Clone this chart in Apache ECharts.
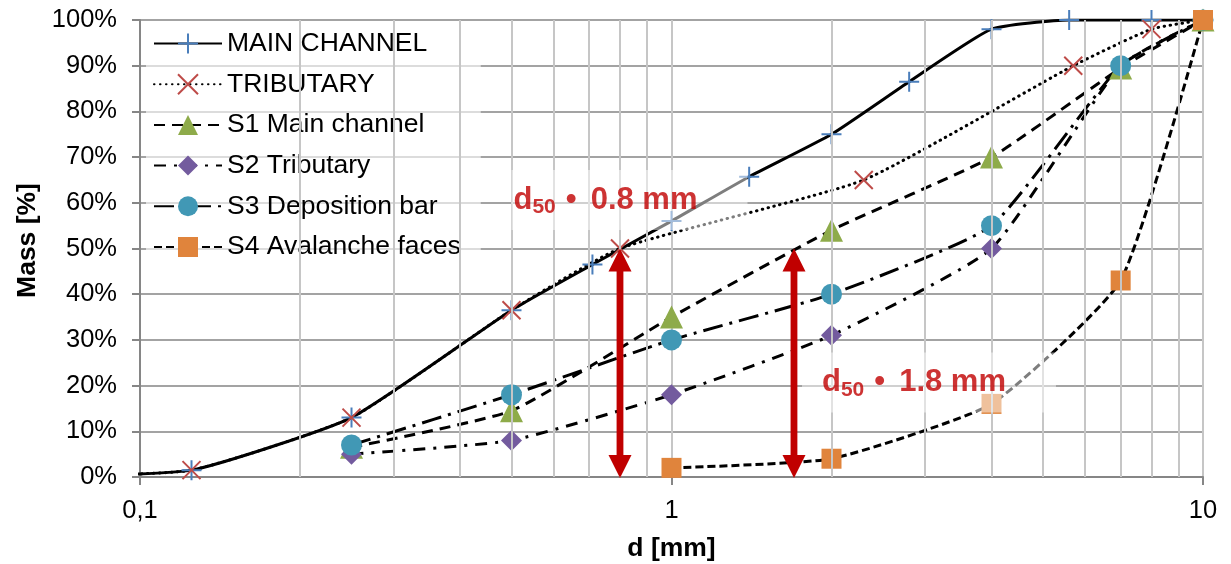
<!DOCTYPE html>
<html>
<head>
<meta charset="utf-8">
<script src="https://cdn.jsdelivr.net/npm/echarts@6/dist/echarts.min.js"></script>
<style>
html,body{margin:0;padding:0;background:#fff;}
#chart{width:1231px;height:564px;}
</style>
</head>
<body>
<div id="chart"></div>
<script>
// ---- data ----
const seriesNames = ['MAIN CHANNEL', 'TRIBUTARY', 'S1 Main channel', 'S2 Tributary', 'S3 Deposition bar', 'S4 Avalanche faces'];

const mainX = [0.063, 0.125, 0.25, 0.5, 0.71, 1, 1.4, 2, 2.8, 4, 5.6, 8, 10];
const mainY = [0, 1.5, 13, 36.5, 46.5, 56, 65.7, 75, 86.5, 98, 100, 100, 100];

const tribX = [0.063, 0.125, 0.25, 0.5, 0.8, 2.3, 5.7, 8, 10];
const tribY = [0, 1.5, 13, 36.5, 50, 65, 90, 98, 100];

const s1X = [0.25, 0.5, 1, 2, 4, 7, 10];
const s1Y = [6.5, 14.5, 35, 54, 70, 89.5, 100];

const s2X = [0.25, 0.5, 1, 2, 4, 7, 10];
const s2Y = [5, 8, 18, 31, 50, 90, 100];

const s3X = [0.25, 0.5, 1, 2, 4, 7, 10];
const s3Y = [7, 18, 30, 40, 55, 90, 100];

const s4X = [1, 2, 4, 7, 10];
const s4Y = [2, 4, 16, 43, 100];

// d50 arrows (x, top %, bottom %)
const arrowX = [0.8, 1.7];
const arrowTop = [50, 50];
const arrowBottom = [0, 0];

// d50 annotation text boxes (anchor at left-middle of box)
const annoX = [0.5, 1.76];
const annoY = [60.6, 20.7];
const annoText = ['0.8 mm', '1.8 mm'];

// axis tick labels
const xTickLabels = {'-1': '0,1', '0': '1', '1': '10'};
const yTickValues = [0, 10, 20, 30, 40, 50, 60, 70, 80, 90, 100];
const minorGridX = [0.2, 0.3, 0.4, 0.5, 0.6, 0.7, 0.8, 0.9, 2, 3, 4, 5, 6, 7, 8, 9];

// ---- chart ----
const FONT = 'Liberation Sans';
const zip = (xs, ys) => xs.map((x, i) => [x, ys[i]]);

const PLUS = 'path://M10,0 L10,20 M0,10 L20,10';
const CROSS = 'path://M0,0 L20,20 M20,0 L0,20';

function lineSeries(name, data, symbol, color, dash, size, extra) {
  const s = {
    name: name,
    type: 'line',
    data: data,
    smooth: 0.16,
    symbol: symbol,
    symbolSize: size,
    showAllSymbol: true,
    clip: true,
    lineStyle: {color: '#000', width: 3, type: dash},
    itemStyle: {color: color},
    emphasis: {disabled: true},
    z: 3
  };
  return Object.assign(s, extra || {});
}

const chart = echarts.init(document.getElementById('chart'), null, {renderer: 'canvas'});

const option = {
  animation: false,
  backgroundColor: '#fff',
  textStyle: {fontFamily: FONT},
  grid: {left: 140, right: 28, top: 20, bottom: 87, containLabel: false, outerBoundsMode: 'none'},
  legend: {
    data: seriesNames,
    orient: 'vertical',
    left: 146,
    top: 22,
    padding: [8, 20, 4, 7],
    itemWidth: 68,
    itemHeight: 25,
    itemGap: 13.7,
    itemTextGap: 8,
    backgroundColor: 'rgba(255,255,255,0.62)',
    textStyle: {fontFamily: FONT, fontSize: 26.5, color: '#000'},
    selectedMode: false
  },
  xAxis: {
    type: 'log',
    logBase: 10,
    min: 0.1,
    max: 10,
    name: 'd [mm]',
    nameLocation: 'middle',
    nameGap: 58,
    nameTextStyle: {fontFamily: FONT, fontSize: 26.5, fontWeight: 'bold', color: '#000'},
    axisLine: {show: true, lineStyle: {color: '#868686', width: 2}},
    axisTick: {show: true, length: 8, lineStyle: {color: '#868686', width: 2}},
    axisLabel: {
      fontFamily: FONT, fontSize: 25.5, color: '#000', margin: 21,
      showMinLabel: true, showMaxLabel: true,
      formatter: function (v) {
        const k = String(Math.round(Math.log10(v)));
        return xTickLabels[k] !== undefined ? xTickLabels[k] : '';
      }
    },
    splitLine: {show: true, lineStyle: {color: '#c6c6c6', width: 2}},
    minorTick: {show: false},
    minorSplitLine: {show: false}
  },
  yAxis: {
    type: 'value',
    min: yTickValues[0],
    max: yTickValues[yTickValues.length - 1],
    interval: 10,
    name: 'Mass [%]',
    nameLocation: 'middle',
    nameGap: 94,
    nameTextStyle: {fontFamily: FONT, fontSize: 26.5, fontWeight: 'bold', color: '#000', padding: [0, 0, 0, 16]},
    axisLine: {show: true, lineStyle: {color: '#868686', width: 2}},
    axisTick: {show: true, length: 8, lineStyle: {color: '#868686', width: 2}},
    axisLabel: {fontFamily: FONT, fontSize: 25.5, color: '#000', margin: 23, formatter: '{value}%'},
    splitLine: {show: true, lineStyle: {color: '#a3a3a3', width: 2}}
  },
  series: [
    {
      name: 'minor-grid',
      type: 'line',
      data: [],
      silent: true,
      z: 1,
      markLine: {
        silent: true,
        symbol: 'none',
        animation: false,
        label: {show: false},
        lineStyle: {color: '#c6c6c6', width: 2, type: 'solid'},
        emphasis: {disabled: true},
        data: minorGridX.map(v => ({xAxis: v}))
      }
    },
    lineSeries(seriesNames[0], zip(mainX, mainY), PLUS, 'transparent', 'solid', 20,
      {itemStyle: {color: 'transparent', borderColor: '#4A7EBB', borderWidth: 2}}),
    lineSeries(seriesNames[1], zip(tribX, tribY), CROSS, 'transparent', [0.5, 5.5], 18,
      {itemStyle: {color: 'transparent', borderColor: '#BE4B48', borderWidth: 2},
       lineStyle: {color: '#000', width: 3, type: [0.5, 5.5], cap: 'round'}}),
    lineSeries(seriesNames[2], zip(s1X, s1Y), 'triangle', '#8EAB4A', [11, 7], 23),
    lineSeries(seriesNames[3], zip(s2X, s2Y), 'diamond', '#735B9E', [12, 8, 3, 8], 21),
    lineSeries(seriesNames[4], zip(s3X, s3Y), 'circle', '#4198B5', [20, 7, 3, 7], 21),
    lineSeries(seriesNames[5], zip(s4X, s4Y), 'rect', '#E0843C', [8, 4], 20),
    {
      name: 'arrows',
      type: 'custom',
      clip: false,
      silent: true,
      z: 6,
      data: arrowX.map((x, i) => [x, arrowTop[i], arrowBottom[i]]),
      encode: {x: 0, y: 1},
      renderItem: function (params, api) {
        const x = api.value(0);
        const top = api.coord([x, api.value(1)]);
        const bot = api.coord([x, api.value(2)]);
        bot[1] += 1;
        const hw = 11.5, hh = 23, sw = 3.4;
        const fill = '#C00000';
        return {
          type: 'group',
          children: [
            {type: 'rect', shape: {x: top[0] - sw, y: top[1] + hh - 1, width: sw * 2, height: bot[1] - top[1] - 2 * hh + 2}, style: {fill: fill}},
            {type: 'polygon', shape: {points: [[top[0], top[1]], [top[0] - hw, top[1] + hh], [top[0] + hw, top[1] + hh]]}, style: {fill: fill}},
            {type: 'polygon', shape: {points: [[bot[0], bot[1]], [bot[0] - hw, bot[1] - hh], [bot[0] + hw, bot[1] - hh]]}, style: {fill: fill}}
          ]
        };
      }
    },
    {
      name: 'annotations',
      type: 'scatter',
      silent: true,
      symbolSize: 0,
      z: 7,
      data: annoX.map((x, i) => ({
        value: [x, annoY[i]],
        label: {padding: i === 0 ? [12, 50, 12, 2] : [12, 50, 12, 20]}
      })),
      label: {
        show: true,
        position: 'right',
        distance: 0,
        backgroundColor: 'rgba(255,255,255,0.62)',
        formatter: function (p) {
          return '{d|d}{s|50}{b|•}{t|' + annoText[p.dataIndex] + '}';
        },
        rich: {
          d: {fontFamily: FONT, fontSize: 31, fontWeight: 'bold', color: '#C00000', lineHeight: 36},
          s: {fontFamily: FONT, fontSize: 21, fontWeight: 'bold', color: '#C00000', lineHeight: 21, padding: [15, 0, 0, 0]},
          b: {fontFamily: FONT, fontSize: 31, fontWeight: 'bold', color: '#C00000', lineHeight: 36, padding: [0, 14, 0, 10]},
          t: {fontFamily: FONT, fontSize: 31, fontWeight: 'bold', color: '#C00000', lineHeight: 36}
        }
      }
    }
  ]
};

chart.setOption(option);
</script>
</body>
</html>
